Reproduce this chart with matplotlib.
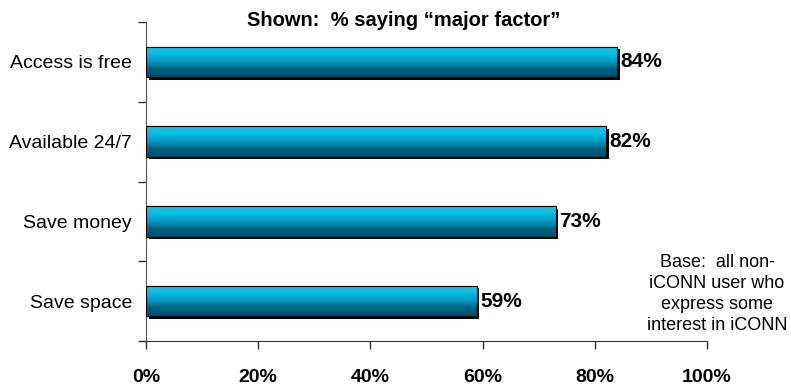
import numpy as np
import matplotlib.pyplot as plt
import matplotlib.patheffects as pe
from matplotlib.colors import LinearSegmentedColormap

plt.rcParams['font.family'] = ['Liberation Sans', 'DejaVu Sans']

categories = ["Access is free", "Available 24/7", "Save money", "Save space"]
values = [84, 82, 73, 59]
xticks = [0, 20, 40, 60, 80, 100]
xtick_labels = ["0%", "20%", "40%", "60%", "80%", "100%"]
title = "Shown:  % saying \u201cmajor factor\u201d"
note = "Base:  all non-\niCONN user who\nexpress some\ninterest in iCONN"

fig = plt.figure(figsize=(7.91, 3.88), dpi=100)
ax = fig.add_axes([146 / 791, 47 / 388, 561 / 791, 319 / 388])

# top of the bar is bright cyan, fading to dark teal at the bottom
cmap = LinearSegmentedColormap.from_list(
    "bar", ["#00CDF7", "#05BCE4", "#0798BA", "#04607E", "#034E68"])
grad = np.linspace(0, 1, 256).reshape(-1, 1)

ypos = np.arange(len(categories))
h = 0.38
bars = ax.barh(ypos, values, height=h, color="#04607E", edgecolor="black",
               linewidth=0.8, zorder=3)
for b in bars:
    b.set_path_effects([pe.SimplePatchShadow(offset=(1.8, -1.8), shadow_rgbFace="black",
                                             alpha=1.0), pe.Normal()])
    x0, y0 = b.get_x(), b.get_y()
    w, bh = b.get_width(), b.get_height()
    # y axis is inverted, so origin="lower" puts the first row at the top edge
    im = ax.imshow(grad, cmap=cmap, aspect="auto", extent=[x0, x0 + w, y0, y0 + bh],
                   origin="lower", zorder=4, interpolation="bilinear")
    im.set_clip_path(b)
    ax.add_patch(plt.Rectangle((x0, y0), w, bh, fill=False, edgecolor="black",
                               linewidth=0.8, zorder=5))

for y, v in zip(ypos, values):
    ax.text(v + 0.6, y, f"{v}%", ha="left", va="center", fontsize=15,
            fontweight="bold", zorder=6)

ax.set_xlim(0, 100)
ax.set_ylim(len(categories) - 0.5, -0.5)
ax.set_xticks(xticks)
ax.set_xticklabels(xtick_labels, fontsize=14, fontweight="bold")
ax.set_yticks(ypos)
ax.set_yticklabels(categories, fontsize=14)
ax.tick_params(axis="y", length=0, pad=10)
ax.set_yticks(np.arange(-0.5, len(categories), 1), minor=True)
ax.tick_params(axis="y", which="minor", length=6, width=1, color="#333333", direction="out")
ax.tick_params(axis="x", length=6, width=1, color="#333333", direction="out", pad=14)

for s in ["top", "right"]:
    ax.spines[s].set_visible(False)
ax.spines["left"].set_color("#555555")
ax.spines["bottom"].set_color("#333333")

fig.text(404 / 791, 1 - 20 / 388, title, ha="center", va="center", fontsize=14.5,
         fontweight="bold")
fig.text(717 / 791, 1 - 294 / 388, note, ha="center", va="center", fontsize=13,
         linespacing=1.3)

fig.savefig("out.png", dpi=100)
